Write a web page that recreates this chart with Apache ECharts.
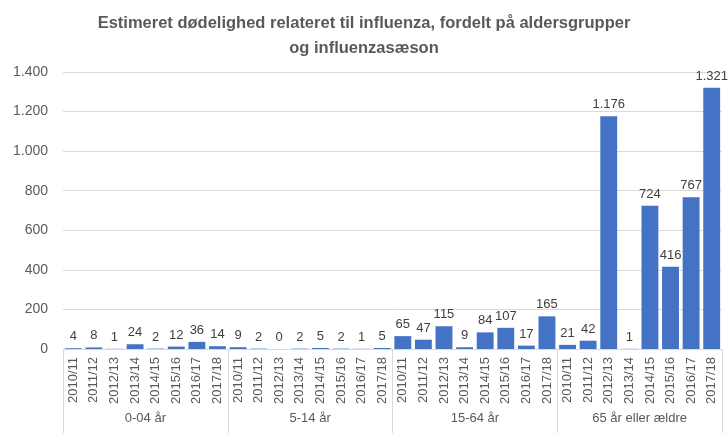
<!DOCTYPE html>
<html>
<head>
<meta charset="utf-8">
<script src="https://cdn.jsdelivr.net/npm/echarts@6/dist/echarts.min.js"></script>
<style>
  html, body { margin: 0; padding: 0; background: #fff; }
  #chart { width: 728px; height: 433px; }
</style>
</head>
<body>
<div id="chart"></div>
<script>
  const seasons = ['2010/11', '2011/12', '2012/13', '2013/14', '2014/15', '2015/16', '2016/17', '2017/18'];
  const groups = ['0-04 år', '5-14 år', '15-64 år', '65 år eller ældre'];
  const age0to4 = [4, 8, 1, 24, 2, 12, 36, 14];
  const age5to14 = [9, 2, 0, 2, 5, 2, 1, 5];
  const age15to64 = [65, 47, 115, 9, 84, 107, 17, 165];
  const age65plus = [21, 42, 1176, 1, 724, 416, 767, 1321];
  const yTicks = [0, 200, 400, 600, 800, 1000, 1200, 1400];

  const categories = [];
  groups.forEach(() => seasons.forEach((s) => categories.push(s)));
  const values = [...age0to4, ...age5to14, ...age15to64, ...age65plus];

  const fmt = (v) => String(v).replace(/\B(?=(\d{3})+(?!\d))/g, '.');
  const font = 'Liberation Sans';

  const chart = echarts.init(document.getElementById('chart'));
  chart.setOption({
    animation: false,
    title: {
      text: 'Estimeret dødelighed relateret til influenza, fordelt på aldersgrupper\nog influenzasæson',
      left: 'center',
      top: 6,
      textStyle: {
        fontFamily: font,
        fontSize: 16.5,
        fontWeight: 'bold',
        color: '#595959',
        lineHeight: 25,
      },
    },
    grid: { left: 63, right: 6, top: 72, bottom: 84 },
    xAxis: [
      {
        type: 'category',
        data: categories,
        axisLine: { lineStyle: { color: '#d9d9d9' } },
        axisTick: { show: false },
        axisLabel: {
          interval: 0,
          rotate: 90,
          margin: 8,
          fontFamily: font,
          fontSize: 13,
          color: '#595959',
        },
      },
      {
        type: 'category',
        data: groups,
        position: 'bottom',
        axisLine: { show: false },
        axisTick: { show: true, length: 84, lineStyle: { color: '#d9d9d9' } },
        axisLabel: {
          margin: 63,
          fontFamily: font,
          fontSize: 13,
          color: '#595959',
        },
      },
    ],
    yAxis: {
      type: 'value',
      min: yTicks[0],
      max: yTicks[yTicks.length - 1],
      interval: 200,
      axisLine: { show: false },
      axisTick: { show: false },
      splitLine: { lineStyle: { color: '#d9d9d9' } },
      axisLabel: {
        margin: 15,
        fontFamily: font,
        fontSize: 14,
        color: '#595959',
        formatter: fmt,
      },
    },
    series: [
      {
        type: 'bar',
        data: values,
        barCategoryGap: '18%',
        itemStyle: { color: '#4472c4' },
        label: {
          show: true,
          position: 'top',
          distance: 5,
          fontFamily: font,
          fontSize: 13,
          color: '#404040',
          formatter: (p) => fmt(p.value),
        },
      },
    ],
  });
</script>
</body>
</html>
